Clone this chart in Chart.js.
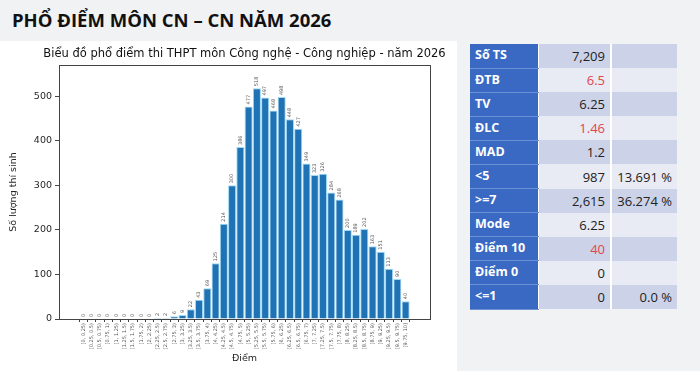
<!DOCTYPE html>
<html>
<head>
<meta charset="utf-8">
<script src="https://cdn.jsdelivr.net/npm/chart.js@4"></script>
<style>
  html, body { margin: 0; padding: 0; }
  body { width: 700px; height: 371px; background: #f1f2f4; position: relative; overflow: hidden; font-family: "Open Sans", sans-serif; }
  #pageTitle { position: absolute; left: 12px; top: 7px; font-size: 18.5px; font-weight: 700; color: #111; }
  #panel { position: absolute; left: 0; top: 41px; width: 457px; height: 330px; background: #fff; }
  #stats { position: absolute; left: 470px; top: 44px; border-collapse: collapse; font-size: 13px; }
  #stats td { height: 24.1px; padding: 0 5px; box-sizing: border-box; }
  #stats td.k { width: 68px; background: #3a69c4; color: #fff; font-weight: 700; font-size: 12.5px; vertical-align: top; padding-top: 2px; border-bottom: 1px solid #6d90d4; }
  #stats td.v { width: 73px; text-align: right; color: #222; border-left: 1px solid #fff; }
  #stats td.p { width: 66px; text-align: right; color: #222; border-left: 2px solid #fff; }
  #stats tr:nth-child(odd) td.v, #stats tr:nth-child(odd) td.p { background: #ccd3e8; }
  #stats tr:nth-child(even) td.v, #stats tr:nth-child(even) td.p { background: #e8eaf4; }
  #stats td.red { color: #e0464b; }
</style>
</head>
<body>
<div id="pageTitle">PHỔ ĐIỂM MÔN CN – CN NĂM 2026</div>
<div id="panel"><canvas id="chart" width="457" height="330"></canvas></div>
<table id="stats"></table>
<script>
// score bins (0.25 wide) and number of candidates per bin
const binLabels = [
  "[0, 0.25)", "[0.25, 0.5)", "[0.5, 0.75)", "[0.75, 1)", "[1, 1.25)", "[1.25, 1.5)", "[1.5, 1.75)", "[1.75, 2)",
  "[2, 2.25)", "[2.25, 2.5)", "[2.5, 2.75)", "[2.75, 3)", "[3, 3.25)", "[3.25, 3.5)", "[3.5, 3.75)", "[3.75, 4)",
  "[4, 4.25)", "[4.25, 4.5)", "[4.5, 4.75)", "[4.75, 5)", "[5, 5.25)", "[5.25, 5.5)", "[5.5, 5.75)", "[5.75, 6)",
  "[6, 6.25)", "[6.25, 6.5)", "[6.5, 6.75)", "[6.75, 7)", "[7, 7.25)", "[7.25, 7.5)", "[7.5, 7.75)", "[7.75, 8)",
  "[8, 8.25)", "[8.25, 8.5)", "[8.5, 8.75)", "[8.75, 9)", "[9, 9.25)", "[9.25, 9.5)", "[9.5, 9.75)", "[9.75, 10]"
];
const counts = [
  0, 0, 0, 0, 0, 0, 0, 0,
  0, 2, 2, 6, 9, 22, 43, 69,
  125, 214, 300, 386, 477, 518, 497, 468,
  498, 448, 427, 349, 323, 326, 284, 268,
  200, 189, 202, 163, 151, 113, 90, 40
];
const yTicks = [0, 100, 200, 300, 400, 500];
const chartTitle = "Biểu đồ phổ điểm thi THPT môn Công nghệ - Công nghiệp - năm 2026";

// summary table
const statNames = ["Số TS", "ĐTB", "TV", "ĐLC", "MAD", "<5", ">=7", "Mode", "Điểm 10", "Điểm 0", "<=1"];
const statValues = ["7,209", "6.5", "6.25", "1.46", "1.2", "987", "2,615", "6.25", "40", "0", "0"];
const statPercents = ["", "", "", "", "", "13.691 %", "36.274 %", "", "", "", "0.0 %"];
const statRed = ["ĐTB", "ĐLC", "Điểm 10"];

const table = document.getElementById("stats");
statNames.forEach((name, i) => {
  const tr = document.createElement("tr");
  const k = document.createElement("td"); k.className = "k"; k.textContent = name;
  const v = document.createElement("td"); v.className = "v" + (statRed.includes(name) ? " red" : ""); v.textContent = statValues[i];
  const p = document.createElement("td"); p.className = "p"; p.textContent = statPercents[i];
  tr.append(k, v, p);
  table.appendChild(tr);
});

const textCol = "#262626";

// numbers above each bar, rotated like the original
const barLabels = {
  id: "barLabels",
  afterDatasetsDraw(chart) {
    const ctx = chart.ctx;
    const meta = chart.getDatasetMeta(0);
    ctx.save();
    ctx.font = "5px 'DejaVu Sans'";
    ctx.fillStyle = "#555";
    ctx.textAlign = "left";
    ctx.textBaseline = "middle";
    meta.data.forEach((bar, i) => {
      ctx.save();
      ctx.translate(bar.x, bar.y - 2);
      ctx.rotate(-Math.PI / 2);
      ctx.fillText(String(counts[i]), 0, 0);
      ctx.restore();
    });
    ctx.restore();
  }
};

// full box around the plot + title centred over it (matplotlib style)
const frame = {
  id: "frame",
  afterDraw(chart) {
    const a = chart.chartArea, ctx = chart.ctx;
    ctx.save();
    ctx.strokeStyle = "#444";
    ctx.lineWidth = 1;
    ctx.strokeRect(Math.round(a.left) + 0.5, Math.round(a.top) + 0.5, Math.round(a.right - a.left), Math.round(a.bottom - a.top));
    ctx.fillStyle = "#111";
    ctx.font = "11.5px 'DejaVu Sans'";
    ctx.textAlign = "center";
    ctx.textBaseline = "middle";
    ctx.fillText(chartTitle, (a.left + a.right) / 2, a.top - 11);
    ctx.restore();
  }
};

new Chart(document.getElementById("chart"), {
  type: "bar",
  data: {
    datasets: [{
      data: counts.map((v, i) => ({ x: i, y: v })),
      backgroundColor: "#1f72b4",
      borderColor: "#9fd9f4",
      borderWidth: 1,
      categoryPercentage: 1,
      barPercentage: 0.98
    }]
  },
  options: {
    responsive: false,
    animation: false,
    layout: { padding: { left: 0, right: 27, top: 24, bottom: 7 } },
    plugins: {
      legend: { display: false },
      tooltip: { enabled: false },
      title: { display: false }
    },
    scales: {
      x: {
        type: "linear",
        min: -2.39,
        max: 41.39,
        afterBuildTicks: (s) => { s.ticks = binLabels.map((_, i) => ({ value: i })); },
        afterFit: (s) => { s.height = 45; },
        grid: { display: true, drawOnChartArea: false, tickLength: 3, color: "#444" },
        border: { display: true, color: "#444" },
        ticks: {
          autoSkip: false,
          minRotation: 90,
          maxRotation: 90,
          padding: 1,
          color: "#555",
          font: { family: "DejaVu Sans", size: 5 },
          callback: (v) => binLabels[Math.round(v)]
        },
        title: {
          display: true,
          text: "Điểm",
          color: textCol,
          font: { family: "DejaVu Sans", size: 9.5 },
          padding: { top: 0, bottom: 0 }
        }
      },
      y: {
        min: 0,
        max: 570,
        afterBuildTicks: (s) => { s.ticks = yTicks.map((v) => ({ value: v })); },
        afterFit: (s) => { s.width = 59; },
        grid: { display: true, drawOnChartArea: false, tickLength: 4, color: "#444" },
        border: { display: true, color: "#444" },
        ticks: {
          color: textCol,
          padding: 3,
          font: { family: "DejaVu Sans", size: 9.5 }
        },
        title: {
          display: true,
          text: "Số lượng thí sinh",
          color: textCol,
          font: { family: "DejaVu Sans", size: 9.5 },
          padding: { top: 8, bottom: 4 }
        }
      }
    }
  },
  plugins: [barLabels, frame]
});
</script>
</body>
</html>
